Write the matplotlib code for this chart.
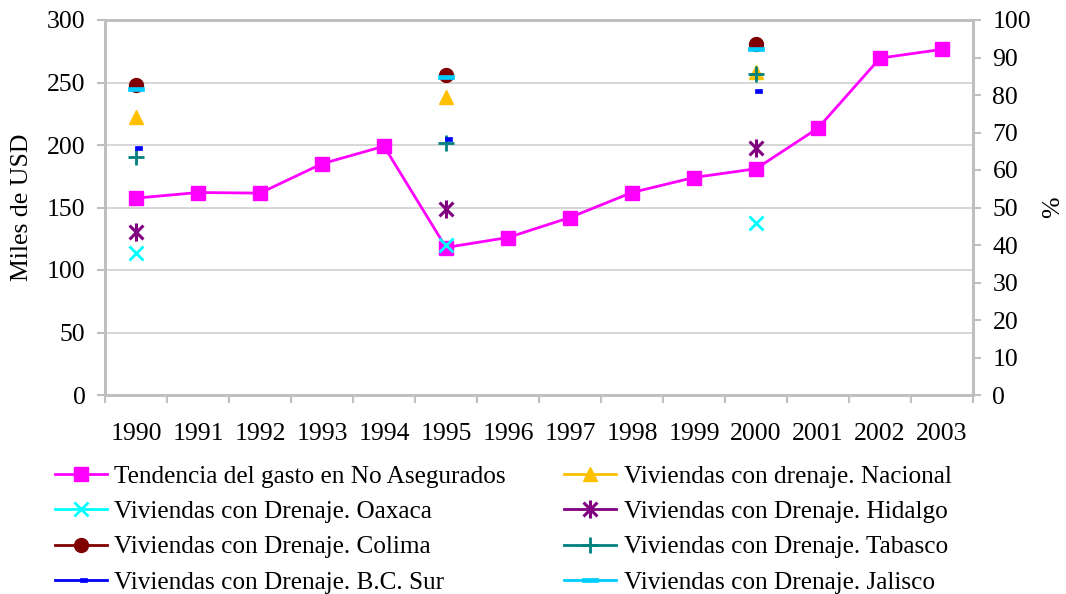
import numpy as np
import matplotlib
matplotlib.use("Agg")
import matplotlib.pyplot as plt
from matplotlib.path import Path
from matplotlib.lines import Line2D

years = [str(y) for y in range(1990, 2004)]
gasto = [157.5, 162, 161.5, 185, 199, 118, 126, 142, 162, 174, 181, 213.5, 269.5, 276.5]

# % series, only for 1990, 1995, 2000
nan = np.nan
nacional = [74.1] + [nan] * 4 + [79.5] + [nan] * 4 + [86.1] + [nan] * 3
oaxaca = [37.9] + [nan] * 4 + [40.0] + [nan] * 4 + [45.9] + [nan] * 3
hidalgo = [43.6] + [nan] * 4 + [49.6] + [nan] * 4 + [65.9] + [nan] * 3
colima = [82.6] + [nan] * 4 + [85.4] + [nan] * 4 + [93.5] + [nan] * 3
tabasco = [63.4] + [nan] * 4 + [67.1] + [nan] * 4 + [85.6] + [nan] * 3
bcsur = [65.8] + [nan] * 4 + [68.2] + [nan] * 4 + [81.0] + [nan] * 3
jalisco = [81.6] + [nan] * 4 + [84.8] + [nan] * 4 + [92.2] + [nan] * 3

fs = 18.5
plt.rcParams['font.family'] = ['Liberation Serif', 'DejaVu Serif']
plt.rcParams['font.size'] = fs
grey = '#BFBFBF'

star = Path([(-1, -1), (1, 1), (-1, 1), (1, -1), (0, -1.3), (0, 1.3)],
            [Path.MOVETO, Path.LINETO, Path.MOVETO, Path.LINETO, Path.MOVETO, Path.LINETO])
small_dash = Path([(-0.1, -0.35), (1, -0.35), (1, 0.35), (-0.1, 0.35), (-0.1, -0.35)],
                  [Path.MOVETO, Path.LINETO, Path.LINETO, Path.LINETO, Path.CLOSEPOLY])
wide_dash = Path([(-1, -0.28), (1, -0.28), (1, 0.28), (-1, 0.28), (-1, -0.28)],
                 [Path.MOVETO, Path.LINETO, Path.LINETO, Path.LINETO, Path.CLOSEPOLY])

fig = plt.figure(figsize=(10.66, 5.94), dpi=100)
ax1 = fig.add_axes([105 / 1066, 1 - 395 / 594, 868 / 1066, 375 / 594])
ax2 = ax1.twinx()

x = np.arange(len(years))
l_gasto, = ax1.plot(x, gasto, color='#FF00FF', lw=2, marker='s', ms=10,
                    mec='#FF00FF', label='Tendencia del gasto en No Asegurados', zorder=3)

series = [
    ('Viviendas con drenaje. Nacional', nacional, '#FFC000', '^', 10, 1),
    ('Viviendas con Drenaje. Oaxaca', oaxaca, '#00FFFF', 'x', 10, 2),
    ('Viviendas con Drenaje. Hidalgo', hidalgo, '#800080', star, 13, 2.2),
    ('Viviendas con Drenaje. Colima', colima, '#800000', 'o', 10, 1),
    ('Viviendas con Drenaje. Tabasco', tabasco, '#008080', '+', 11, 2),
    ('Viviendas con Drenaje. B.C. Sur', bcsur, '#0000FF', small_dash, 9, 0.5),
    ('Viviendas con Drenaje. Jalisco', jalisco, '#00CCFF', wide_dash, 11, 0.5),
]
handles = {}
for name, vals, col, mk, ms, mew in series:
    ax2.plot(x, vals, ls='none', marker=mk, ms=ms, color=col, mec=col, mfc=col, mew=mew)
    handles[name] = Line2D([], [], color=col, lw=2, marker=mk, ms=ms, mec=col, mfc=col, mew=mew)
handles['gasto'] = l_gasto

ax1.set_xlim(-0.5, 13.5)
ax1.set_ylim(0, 300)
ax2.set_ylim(0, 100)
ax1.set_yticks(range(0, 301, 50))
ax2.set_yticks(range(0, 101, 10))
ax1.set_xticks(x)
ax1.set_xticklabels(years)
ax1.set_xticks(np.arange(-0.5, 14, 1), minor=True)
ax1.tick_params(axis='x', which='major', length=0, pad=20)
ax1.tick_params(axis='x', which='minor', length=6, width=1.5, color=grey)
ax1.tick_params(axis='y', length=6, width=1.5, color=grey, pad=8)
ax2.tick_params(axis='y', length=6, width=1.5, color=grey, pad=8)

ax1.grid(axis='y', color='#D0D0D0', lw=1.2)
ax1.set_axisbelow(True)
for ax in (ax1, ax2):
    for sp in ax.spines.values():
        sp.set_color(grey)
        sp.set_linewidth(2)

ax1.set_ylabel('Miles de USD', fontsize=fs, labelpad=10)
ax2.set_ylabel('%', fontsize=fs, labelpad=8)

order = [handles['gasto'],
         handles['Viviendas con Drenaje. Oaxaca'],
         handles['Viviendas con Drenaje. Colima'],
         handles['Viviendas con Drenaje. B.C. Sur'],
         handles['Viviendas con drenaje. Nacional'],
         handles['Viviendas con Drenaje. Hidalgo'],
         handles['Viviendas con Drenaje. Tabasco'],
         handles['Viviendas con Drenaje. Jalisco']]
labels = ['Tendencia del gasto en No Asegurados',
          'Viviendas con Drenaje. Oaxaca',
          'Viviendas con Drenaje. Colima',
          'Viviendas con Drenaje. B.C. Sur',
          'Viviendas con drenaje. Nacional',
          'Viviendas con Drenaje. Hidalgo',
          'Viviendas con Drenaje. Tabasco',
          'Viviendas con Drenaje. Jalisco']
fig.legend(order, labels, loc='upper left', bbox_to_anchor=(55 / 1066, 1 - 465 / 594),
           ncol=2, frameon=False, fontsize=18.2, handlelength=2.05, handletextpad=0.3,
           columnspacing=2.3, labelspacing=0.5, borderpad=0, borderaxespad=0)

fig.savefig('out.png', dpi=100)
